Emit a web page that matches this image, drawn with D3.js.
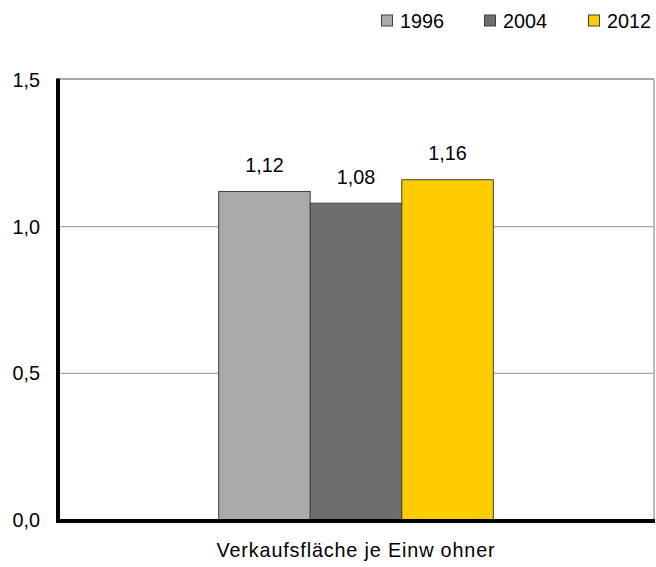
<!DOCTYPE html>
<html>
<head>
<meta charset="utf-8">
<script src="https://cdn.jsdelivr.net/npm/d3@7"></script>
<style>
  body { margin: 0; background: #fff; }
  svg { display: block; }
  svg text { font-family: "Liberation Sans", Arial, sans-serif; fill: #000; }
</style>
</head>
<body>
<svg id="chart" width="656" height="567"></svg>
<script>
// Sales floor per inhabitant, by survey year
const categories = ["Verkaufsfläche je Einw ohner"];
const years = ["1996", "2004", "2012"];
const values = [1.12, 1.08, 1.16];
const yTicks = [0, 0.5, 1.0, 1.5];
const colors = ["#aaaaaa", "#6e6e6e", "#ffcc00"];

const svg = d3.select("#chart");
const plotLeft = 58, plotRight = 654, plotTop = 80, plotBottom = 520;
const fontSize = 19.8;
const fmt = v => d3.format(".1f")(v).replace(".", ",");
const fmt2 = v => d3.format(".2f")(v).replace(".", ",");

const y = d3.scaleLinear().domain([0, 1.5]).range([plotBottom, plotTop]);
const x0 = d3.scaleBand().domain(categories).range([plotLeft, plotRight])
  .paddingInner(0).paddingOuter(0.585);
const x1 = d3.scaleBand().domain(years).range([0, x0.bandwidth()]).padding(0);

// horizontal gridlines
svg.append("g").selectAll("line").data(yTicks.filter(t => t > 0 && t < 1.5))
  .join("line")
  .attr("x1", plotLeft).attr("x2", plotRight)
  .attr("y1", d => y(d)).attr("y2", d => y(d))
  .attr("stroke", "#a6a6a6").attr("stroke-width", 1.2);

// right border
svg.append("line")
  .attr("x1", plotRight).attr("x2", plotRight).attr("y1", plotTop - 1).attr("y2", plotBottom)
  .attr("stroke", "#a6a6a6").attr("stroke-width", 1.5);

// top border
svg.append("line")
  .attr("x1", plotLeft).attr("x2", plotRight).attr("y1", plotTop - 1).attr("y2", plotTop - 1)
  .attr("stroke", "#8c8c8c").attr("stroke-width", 1.5);

// bars with value labels
const g = svg.append("g");
categories.forEach(cat => {
  g.selectAll("rect.bar").data(values).join("rect")
    .attr("class", "bar")
    .attr("x", (d, i) => x0(cat) + x1(years[i]))
    .attr("y", d => y(d))
    .attr("width", x1.bandwidth())
    .attr("height", d => y(0) - y(d))
    .attr("fill", (d, i) => colors[i])
    .attr("stroke", "#404040").attr("stroke-width", 1);

  g.selectAll("text.val").data(values).join("text")
    .attr("class", "val")
    .attr("x", (d, i) => x0(cat) + x1(years[i]) + x1.bandwidth() / 2)
    .attr("y", d => y(d) - 19.5)
    .attr("text-anchor", "middle")
    .attr("font-size", fontSize)
    .text(d => fmt2(d));
});

// y axis
const yAxis = svg.append("g").attr("transform", `translate(${plotLeft},0)`)
  .call(d3.axisLeft(y).tickValues(yTicks).tickSize(0).tickPadding(18).tickFormat(fmt));
yAxis.select(".domain").remove();
yAxis.selectAll("text").attr("font-size", fontSize).attr("fill", null);
yAxis.attr("font-family", null).attr("font-size", null);

svg.append("line")
  .attr("x1", plotLeft).attr("x2", plotLeft).attr("y1", plotTop - 1.5).attr("y2", plotBottom + 2)
  .attr("stroke", "#000").attr("stroke-width", 4);

// x axis
const xAxis = svg.append("g").attr("transform", `translate(0,${plotBottom})`)
  .call(d3.axisBottom(x0).tickSize(0).tickPadding(23));
xAxis.select(".domain").remove();
xAxis.selectAll("text").attr("font-size", fontSize).attr("fill", null)
  .attr("letter-spacing", 0.85);
xAxis.attr("font-family", null).attr("font-size", null);
svg.append("line")
  .attr("x1", plotLeft - 2).attr("x2", plotRight + 1).attr("y1", plotBottom + 1).attr("y2", plotBottom + 1)
  .attr("stroke", "#000").attr("stroke-width", 4);

// legend
const legendX = [381.5, 484.5, 588.5];
const lg = svg.append("g").selectAll("g").data(years).join("g")
  .attr("transform", (d, i) => `translate(${legendX[i]},15)`);
lg.append("rect").attr("width", 11).attr("height", 11)
  .attr("fill", (d, i) => colors[i]).attr("stroke", "#404040").attr("stroke-width", 1);
lg.append("text").attr("x", 18.5).attr("y", 12.5).attr("font-size", fontSize)
  .text(d => d);
</script>
</body>
</html>
